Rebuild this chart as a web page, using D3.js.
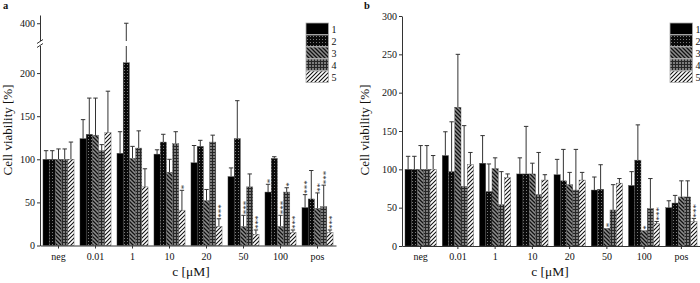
<!DOCTYPE html>
<html>
<head>
<meta charset="utf-8">
<script src="https://cdn.jsdelivr.net/npm/d3@7"></script>
<style>
  body { margin: 0; background: #fff; }
  svg { display: block; font-family: "Liberation Serif", "Times New Roman", serif; }
  .axis path, .axis line { stroke: #333; }
  .axis text { font-size: 10px; fill: #111; font-family: "Liberation Serif", "Times New Roman", serif; }
</style>
</head>
<body>
<div id="chart"></div>
<script>

// -----------------------------------------------------------------------------
// Data
// -----------------------------------------------------------------------------

var categories = ["neg", "0.01", "1", "10", "20", "50", "100", "pos"];
var seriesNames = ["1", "2", "3", "4", "5"];

// panel a: means and upper error bound per series
var aMeans = [
  [100, 124, 107, 106, 96, 80, 62, 44],
  [100, 129, 212, 120, 115, 124, 101, 54],
  [100, 128, 101, 85, 52, 22, 22, 43],
  [100, 110, 113, 118, 120, 68, 62, 45],
  [100, 131, 68, 41, 22, 13, 15, 15]
];
var aUpper = [
  [110, 146, 132, 111, 116, 90, 71, 59],
  [110, 171, 400, 129, 122, 168, 103, 87],
  [112, 171, 115, 100, 65, 35, 35, 61],
  [112, 117, 133, 132, 128, 83, 67, 70],
  [120, 179, 89, 64, 31, 18, 18, 18]
];
var aStars = [
  ["", "", "", "", "", "", "*", "***"],
  ["", "", "", "", "", "", "", ""],
  ["", "", "", "", "", "***", "***", "**"],
  ["", "", "", "", "", "", "*", "***"],
  ["", "", "", "*", "***", "***", "***", "***"]
];
var aTicks = [0, 50, 100, 150, 200, 400];

// panel b
var bMeans = [
  [100, 118, 108, 94, 93, 73, 79, 50],
  [100, 97, 71, 94, 85, 74, 112, 56],
  [100, 181, 101, 94, 80, 23, 20, 64],
  [100, 78, 54, 67, 73, 47, 49, 64],
  [100, 106, 89, 86, 86, 82, 29, 32]
];
var bUpper = [
  [117, 149, 144, 115, 113, 90, 97, 59],
  [117, 162, 107, 156, 126, 106, 158, 66],
  [131, 250, 115, 108, 96, 23, 20, 85],
  [131, 157, 97, 122, 126, 80, 88, 85],
  [118, 122, 94, 93, 96, 88, 32, 36]
];
var bStars = [
  ["", "", "", "", "", "", "", ""],
  ["", "", "", "", "", "", "", ""],
  ["", "", "", "", "", "*", "*", ""],
  ["", "", "", "", "", "", "", ""],
  ["", "", "", "", "", "", "***", "***"]
];
var bTicks = [0, 50, 100, 150, 200, 250, 300];

// -----------------------------------------------------------------------------
// Setup
// -----------------------------------------------------------------------------

var width = 700, height = 283;

var svg = d3.select("#chart").append("svg")
    .attr("width", width)
    .attr("height", height);

var defs = svg.append("defs");

function makePattern(id, size, bg, draw) {
  var p = defs.append("pattern")
      .attr("id", id)
      .attr("patternUnits", "userSpaceOnUse")
      .attr("width", size)
      .attr("height", size);
  p.append("rect").attr("width", size).attr("height", size).attr("fill", bg);
  draw(p);
}

makePattern("pat1", 4, "#000", function(p) {});
makePattern("pat2", 3, "#0a0a0a", function(p) {
  p.append("rect").attr("x", 1).attr("y", 1).attr("width", 1).attr("height", 1).attr("fill", "#7a7a7a");
});
makePattern("pat3", 4, "#8e8e8e", function(p) {
  p.append("path").attr("d", "M-1,-1 L5,5 M3,-1 L5,1 M-1,3 L1,5")
      .attr("stroke", "#111").attr("stroke-width", 1.3);
});
makePattern("pat4", 3, "#262626", function(p) {
  p.append("rect").attr("x", 0).attr("y", 0).attr("width", 2).attr("height", 2).attr("fill", "#7c7c7c");
});
makePattern("pat5", 4, "#fff", function(p) {
  p.append("path").attr("d", "M-1,5 L5,-1 M-1,1 L1,-1 M3,5 L5,3")
      .attr("stroke", "#111").attr("stroke-width", 1.1);
});

var fills = seriesNames.map(function(d, i) { return "url(#pat" + (i + 1) + ")"; });

// -----------------------------------------------------------------------------
// Panel drawing
// -----------------------------------------------------------------------------

function drawPanel(opt) {
  var g = svg.append("g");
  var yScale = opt.yScale;

  var x0 = d3.scaleBand()
      .domain(categories)
      .range([opt.x0, opt.x1])
      .paddingInner(0.16)
      .paddingOuter(0.08);

  var x1 = d3.scaleBand()
      .domain(seriesNames)
      .range([0, x0.bandwidth()]);

  function cx(d) { return x0(d.c) + x1(d.s) + x1.bandwidth() / 2; }

  var rows = [];
  opt.means.forEach(function(vals, si) {
    vals.forEach(function(v, ci) {
      rows.push({s: seriesNames[si], si: si, c: categories[ci], v: v,
                 up: opt.upper[si][ci], star: opt.stars[si][ci]});
    });
  });

  // error bars (upper only)
  var errs = g.selectAll(".err")
      .data(rows.filter(function(d) { return d.up > d.v; }))
    .enter().append("g")
      .attr("class", "err")
      .attr("stroke", "#333")
      .attr("stroke-width", 1);
  errs.append("line")
      .attr("x1", cx)
      .attr("x2", cx)
      .attr("y1", function(d) { return yScale(d.v); })
      .attr("y2", function(d) { return yScale(d.up); });
  errs.append("line")
      .attr("x1", function(d) { return cx(d) - 2.2; })
      .attr("x2", function(d) { return cx(d) + 2.2; })
      .attr("y1", function(d) { return yScale(d.up); })
      .attr("y2", function(d) { return yScale(d.up); });

  // bars
  g.selectAll(".bar")
      .data(rows)
    .enter().append("rect")
      .attr("class", "bar")
      .attr("x", function(d) { return x0(d.c) + x1(d.s); })
      .attr("y", function(d) { return yScale(d.v); })
      .attr("width", x1.bandwidth())
      .attr("height", function(d) { return yScale(0) - yScale(d.v); })
      .attr("fill", function(d) { return fills[d.si]; })
      .attr("stroke", "#555")
      .attr("stroke-width", 0.4);

  // significance stars, stacked vertically (one rotated text each)
  g.selectAll(".star")
      .data(rows.filter(function(d) { return d.star; }))
    .enter().append("text")
      .attr("class", "star")
      .attr("transform", function(d) {
        return "translate(" + cx(d) + "," + (yScale(Math.max(d.v, d.up)) - 1) + ") rotate(-90)";
      })
      .attr("dy", "0.58em")
      .attr("font-size", 9)
      .attr("fill", "#222")
      .text(function(d) { return d.star; });

  // axes
  g.append("g")
      .attr("class", "axis")
      .attr("transform", "translate(0," + yScale(0) + ")")
      .call(d3.axisBottom(x0).tickSize(3).tickSizeOuter(0).tickPadding(4));

  g.append("g")
      .attr("class", "axis")
      .attr("transform", "translate(" + opt.x0 + ",0)")
      .call(d3.axisLeft(yScale).tickValues(opt.ticks).tickSize(3).tickSizeOuter(0).tickPadding(2));

  // axis titles
  g.append("text")
      .attr("transform", "translate(" + opt.ylabX + ",130) rotate(-90)")
      .attr("text-anchor", "middle")
      .attr("font-size", 13)
      .attr("fill", "#111")
      .text("Cell viability [%]");

  g.append("text")
      .attr("x", opt.xlabX)
      .attr("y", 276)
      .attr("text-anchor", "middle")
      .attr("font-size", 13.5)
      .attr("fill", "#111")
      .text("c [μM]");

  g.append("text")
      .attr("x", opt.tagX)
      .attr("y", 9)
      .attr("font-size", 10.5)
      .attr("font-weight", "bold")
      .attr("fill", "#111")
      .text(opt.tag);

  // legend
  var leg = g.selectAll(".leg")
      .data(seriesNames)
    .enter().append("g")
      .attr("class", "leg")
      .attr("transform", function(d, i) { return "translate(" + opt.legX + "," + (23 + i * 12) + ")"; });
  leg.append("rect")
      .attr("width", 22.5)
      .attr("height", 11.5)
      .attr("fill", function(d, i) { return fills[i]; })
      .attr("stroke", "#aaa")
      .attr("stroke-width", 0.8);
  leg.append("text")
      .attr("x", 25.5)
      .attr("y", 9.5)
      .attr("font-size", 10)
      .attr("fill", "#111")
      .text(function(d) { return d; });

  return g;
}

// panel a uses a broken axis: linear up to the break, squeezed above it
var yA = d3.scaleLinear()
    .domain([0, 232, 372, 413])
    .range([245.5, 45.5, 41, 15]);

var gA = drawPanel({
  yScale: yA, x0: 40, x1: 336, means: aMeans, upper: aUpper, stars: aStars,
  ticks: aTicks, ylabX: 12, xlabX: 191, tag: "a", tagX: 3, legX: 306
});

// axis break: gap plus slanted marks
gA.append("rect")
    .attr("x", 37).attr("y", 41).attr("width", 100).attr("height", 5)
    .attr("fill", "#fff");
gA.append("path")
    .attr("d", "M37,43.5 L43,39.5 M37,47.5 L43,43.5")
    .attr("stroke", "#333")
    .attr("fill", "none");

var yB = d3.scaleLinear()
    .domain([0, 300])
    .range([246, 16]);

drawPanel({
  yScale: yB, x0: 402, x1: 700, means: bMeans, upper: bUpper, stars: bStars,
  ticks: bTicks, ylabX: 369, xlabX: 550, tag: "b", tagX: 364, legX: 670
});

</script>
</body>
</html>
